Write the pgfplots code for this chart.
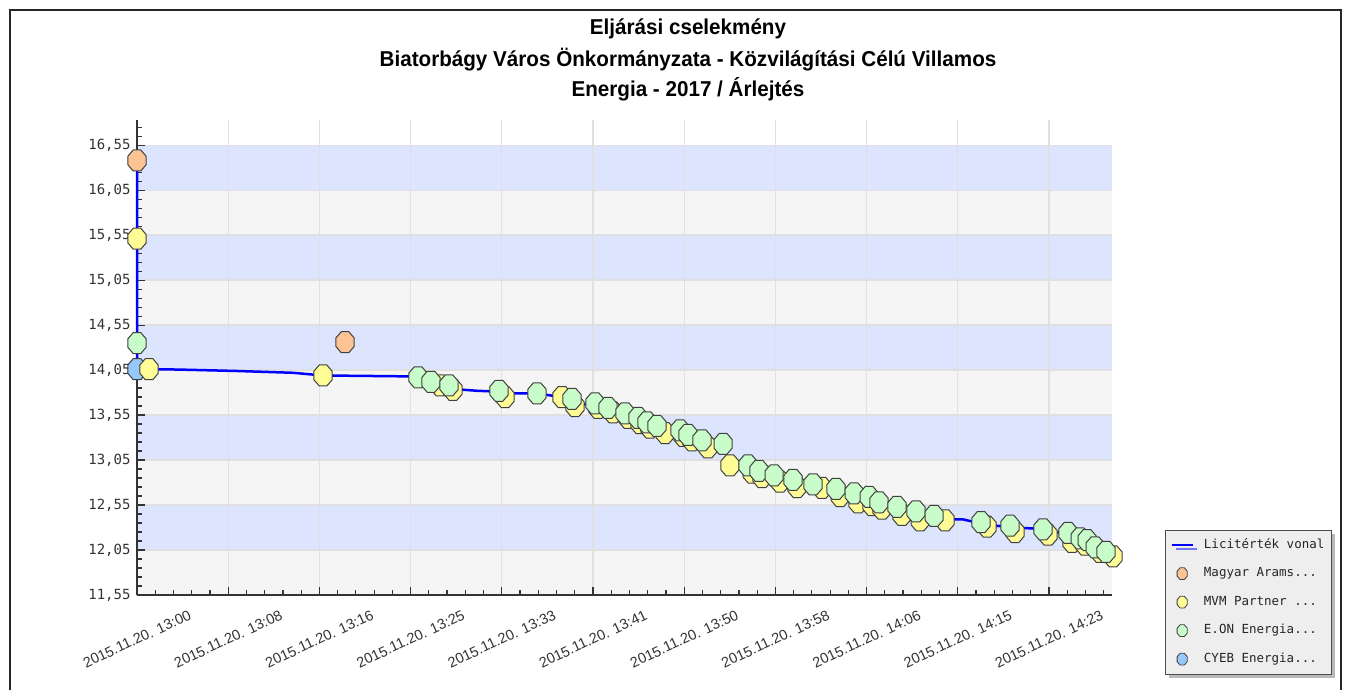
\documentclass[border=0pt]{standalone}
\usepackage{fontspec}
\usepackage{pgfplots}
\pgfplotsset{compat=1.18}
\usetikzlibrary{shadows}
\setmainfont{Liberation Sans}
\newfontfamily\titlefont{Liberation Sans}[FakeStretch=0.96]
\newfontfamily\monofont{DejaVu Sans Mono}

\definecolor{bandblue}{RGB}{221,228,253}
\definecolor{bandgray}{RGB}{245,245,245}
\definecolor{orangeM}{RGB}{252,196,148}
\definecolor{yellowM}{RGB}{255,252,150}
\definecolor{greenM}{RGB}{200,252,200}
\definecolor{blueM}{RGB}{150,200,252}
\definecolor{legbg}{RGB}{238,238,238}

\pgfdeclareplotmark{oct}{%
  \pgfpathmoveto{\pgfqpoint{0.924\pgfplotmarksize}{0.444\pgfplotmarksize}}%
  \pgfpathlineto{\pgfqpoint{0.383\pgfplotmarksize}{1.072\pgfplotmarksize}}%
  \pgfpathlineto{\pgfqpoint{-0.383\pgfplotmarksize}{1.072\pgfplotmarksize}}%
  \pgfpathlineto{\pgfqpoint{-0.924\pgfplotmarksize}{0.444\pgfplotmarksize}}%
  \pgfpathlineto{\pgfqpoint{-0.924\pgfplotmarksize}{-0.444\pgfplotmarksize}}%
  \pgfpathlineto{\pgfqpoint{-0.383\pgfplotmarksize}{-1.072\pgfplotmarksize}}%
  \pgfpathlineto{\pgfqpoint{0.383\pgfplotmarksize}{-1.072\pgfplotmarksize}}%
  \pgfpathlineto{\pgfqpoint{0.924\pgfplotmarksize}{-0.444\pgfplotmarksize}}%
  \pgfpathclose
  \pgfusepathqfillstroke
}

\begin{document}
\begin{tikzpicture}
\draw[black!85, line width=1.6pt] (10pt,0pt) -- (10pt,680pt) -- (1341pt,680pt) -- (1341pt,0pt);
\node[anchor=base, font=\titlefont\bfseries\fontsize{21.5}{21.5}\selectfont] at (688pt,655pt) {Eljárási cselekmény};
\node[anchor=base, font=\titlefont\bfseries\fontsize{21.5}{21.5}\selectfont] at (688pt,623pt) {Biatorbágy Város Önkormányzata - Közvilágítási Célú Villamos};
\node[anchor=base, font=\titlefont\bfseries\fontsize{21.5}{21.5}\selectfont] at (688pt,593pt) {Energia - 2017 / Árlejtés};

\begin{axis}[
  at={(137pt,95pt)}, anchor=south west,
  scale only axis, width=975pt, height=475pt,
  xmin=0, xmax=89.09, ymin=11.55, ymax=16.83,
  enlargelimits=false,
  set layers, clip=false,
  axis lines=left, axis line style={-, draw=black!80, line width=1.4pt},
  xtick={0,8.33333,16.66667,25,33.33333,41.66667,50,58.33333,66.66667,75,83.33333},
  xticklabels={2015.11.20. 13:00,2015.11.20. 13:08,2015.11.20. 13:16,2015.11.20. 13:25,2015.11.20. 13:33,2015.11.20. 13:41,2015.11.20. 13:50,2015.11.20. 13:58,2015.11.20. 14:06,2015.11.20. 14:15,2015.11.20. 14:23},
  minor xtick={0,1.666667,...,89},
  ytick={11.55,12.05,12.55,13.05,13.55,14.05,14.55,15.05,15.55,16.05,16.55},
  yticklabels={{11,55},{12,05},{12,55},{13,05},{13,55},{14,05},{14,55},{15,05},{15,55},{16,05},{16,55}},
  minor ytick={11.65,11.75,...,16.8},
  tick align=inside,
  major tick length=8pt, minor tick length=4.5pt,
  tick style={draw=black!80, line width=1.2pt},
  grid=major, major grid style={draw=black!12, line width=1.3pt},
  xticklabel style={font=\fontsize{14.5}{14.5}\selectfont, text=black!80, anchor=center, yshift=-44pt, rotate=25},
  yticklabel style={font=\monofont\fontsize{14}{14}\selectfont, text=black!80, xshift=-3pt},
  legend image code/.code={\draw[mark repeat=2,mark phase=2,#1] plot coordinates {(0pt,0pt) (10.5pt,0pt) (21pt,0pt)};},
  legend cell align=left,
  legend style={at={(1.0544,0.1368)}, anchor=north west, fill=legbg, draw=black!70, line width=0.8pt,
    font=\monofont\fontsize{12.5}{12.5}\selectfont, text=black!85,
    inner xsep=5pt, inner ysep=7pt, row sep=13pt,
    /tikz/every odd column/.append style={column sep=8pt},
    nodes={inner sep=2pt, text height=9pt, text depth=2.5pt},
    drop shadow={shadow xshift=4pt, shadow yshift=-4pt, fill=black!55}},
]
% background bands
\addplot[fill=bandgray, draw=none, forget plot, on layer=axis background] coordinates {(0,11.55) (89.09,11.55) (89.09,16.55) (0,16.55)} -- cycle;
\addplot[fill=bandblue, draw=none, forget plot, on layer=axis background] coordinates {(0,12.05) (89.09,12.05) (89.09,12.55) (0,12.55)} -- cycle;
\addplot[fill=bandblue, draw=none, forget plot, on layer=axis background] coordinates {(0,13.05) (89.09,13.05) (89.09,13.55) (0,13.55)} -- cycle;
\addplot[fill=bandblue, draw=none, forget plot, on layer=axis background] coordinates {(0,14.05) (89.09,14.05) (89.09,14.55) (0,14.55)} -- cycle;
\addplot[fill=bandblue, draw=none, forget plot, on layer=axis background] coordinates {(0,15.05) (89.09,15.05) (89.09,15.55) (0,15.55)} -- cycle;
\addplot[fill=bandblue, draw=none, forget plot, on layer=axis background] coordinates {(0,16.05) (89.09,16.05) (89.09,16.55) (0,16.55)} -- cycle;

\addlegendimage{draw=blue, line width=2.5pt, mark=none}
\addlegendentry{Licitérték vonal}
\addlegendimage{only marks, mark=oct, mark size=5.5pt, mark options={fill=orangeM, draw=black!75, line width=0.8pt}}
\addlegendentry{Magyar Arams...}
\addlegendimage{only marks, mark=oct, mark size=5.5pt, mark options={fill=yellowM, draw=black!75, line width=0.8pt}}
\addlegendentry{MVM Partner ...}
\addlegendimage{only marks, mark=oct, mark size=5.5pt, mark options={fill=greenM, draw=black!75, line width=0.8pt}}
\addlegendentry{E.ON Energia...}
\addlegendimage{only marks, mark=oct, mark size=5.5pt, mark options={fill=blueM, draw=black!75, line width=0.8pt}}
\addlegendentry{CYEB Energia...}

% Licitérték vonal
\addplot[draw=blue, line width=2.5pt, mark=none, forget plot] coordinates {
(0,16.38) (0,14.06) (1.10,14.06) (3.75,14.056) (9.14,14.04) (14.25,14.02) (17.00,13.99)
(24.94,13.98) (26.86,13.92) (28.87,13.84) (31.07,13.82) (33.08,13.81) (33.63,13.79)
(36.55,13.79) (38.83,13.75) (40.02,13.68) (41.85,13.66) (43.49,13.59) (44.86,13.52)
(45.96,13.47) (46.87,13.41) (48.25,13.36) (49.89,13.32) (50.71,13.27) (52.17,13.22)
(53.55,13.21) (54.18,12.99) (56.20,12.93) (57.11,12.87) (58.75,12.83) (60.31,12.77)
(62.59,12.74) (64.24,12.67) (65.88,12.61) (67.16,12.56) (68.07,12.52) (69.90,12.46)
(71.55,12.40) (73.83,12.39) (75.48,12.39) (77.67,12.33) (80.23,12.30) (83.24,12.28)
(85.43,12.20) (86.62,12.15) (87.99,12.06) (89.18,11.99)
};

% CYEB Energia
\addplot[only marks, mark=oct, mark size=9.8pt, mark options={fill=blueM, draw=black!75, line width=1pt}, forget plot] coordinates {
(0,14.06)
};
% Magyar Arams
\addplot[only marks, mark=oct, mark size=9.8pt, mark options={fill=orangeM, draw=black!75, line width=1pt}, forget plot] coordinates {
(0,16.38) (19.01,14.36)
};
% MVM Partner
\addplot[only marks, mark=oct, mark size=9.8pt, mark options={fill=yellowM, draw=black!75, line width=1pt}, forget plot] coordinates {
(0,15.51) (1.10,14.06) (17.00,13.99)
(27.69,13.88) (28.87,13.83) (33.63,13.75) (38.83,13.75) (40.02,13.65) (42.12,13.63)
(43.49,13.58) (44.86,13.52) (45.96,13.46) (46.87,13.41) (48.25,13.35) (49.89,13.32)
(50.71,13.27) (52.17,13.19) (54.18,12.99) (56.20,12.91) (57.11,12.86) (58.75,12.81)
(60.31,12.75) (62.59,12.74) (64.24,12.65) (65.88,12.58) (67.16,12.55) (68.07,12.51)
(69.90,12.44) (71.55,12.38) (73.83,12.38) (77.67,12.31) (80.23,12.25) (83.24,12.22)
(85.43,12.14) (86.62,12.11) (87.99,12.03) (89.18,11.98)
};
% E.ON Energia
\addplot[only marks, mark=oct, mark size=9.8pt, mark options={fill=greenM, draw=black!75, line width=1pt}, forget plot] coordinates {
(0,14.35)
(25.68,13.97) (26.86,13.92) (28.51,13.88) (33.08,13.82) (36.55,13.79) (39.75,13.73)
(41.85,13.68) (43.04,13.63) (44.59,13.57) (45.78,13.52) (46.60,13.47) (47.51,13.43)
(49.62,13.38) (50.35,13.33) (51.63,13.27) (53.55,13.23) (55.83,12.99) (56.83,12.93)
(58.21,12.88) (59.94,12.83) (61.77,12.78) (63.87,12.73) (65.52,12.68) (66.89,12.64)
(67.80,12.58) (69.44,12.53) (71.18,12.48) (72.83,12.43) (77.12,12.36) (79.77,12.32)
(82.78,12.28) (85.07,12.24) (86.17,12.18) (86.81,12.16) (87.54,12.08) (88.54,12.03)
};
\end{axis}
\pgfresetboundingbox
\path (0pt,0pt) rectangle (1351pt,690pt);
\end{tikzpicture}
\end{document}
